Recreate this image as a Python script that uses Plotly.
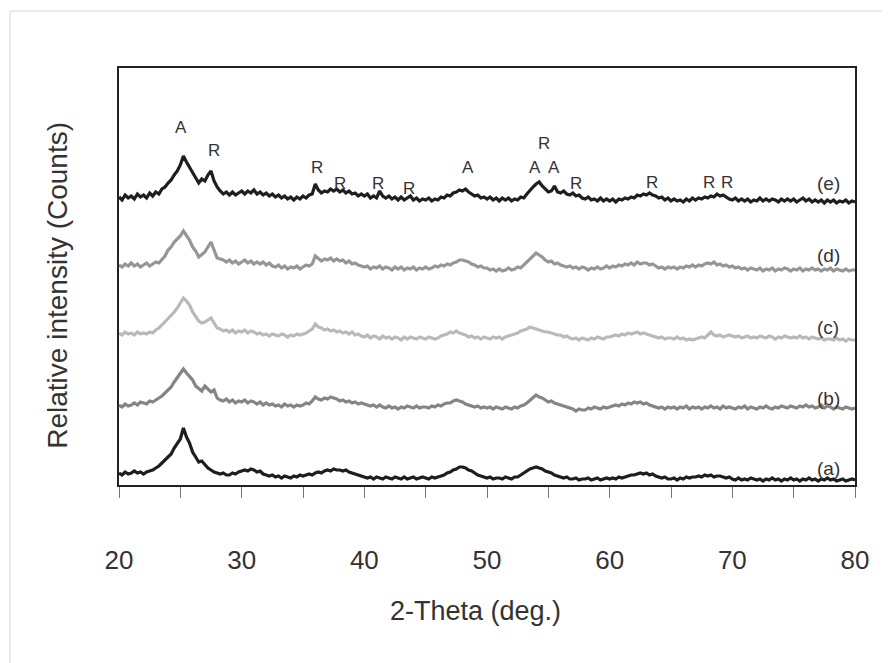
import plotly.graph_objects as go

# ---------------- data ----------------
theta_start = 20.0
theta_step = 0.25
n_points = 241
two_theta = [theta_start + theta_step * i for i in range(n_points)]

# offset intensities (stacked patterns), sampled every 0.25 deg from 20 to 80
pattern_e = [
    288, 285, 290, 287, 289, 286, 291, 288, 290, 287, 292, 289, 293, 291, 296, 298, 302, 305, 310, 314,
    320, 329, 323, 318, 312, 307, 302, 306, 304, 310, 314, 304, 298, 294, 291, 293, 290, 293, 290, 292,
    294, 291, 294, 292, 295, 291, 293, 290, 292, 289, 291, 288, 290, 287, 289, 286, 288, 285, 288, 286,
    289, 287, 290, 291, 301, 295, 292, 294, 293, 296, 294, 296, 293, 295, 292, 294, 291, 292, 289, 291,
    289, 291, 287, 289, 287, 294, 289, 287, 289, 286, 288, 285, 288, 285, 287, 289, 285, 287, 284, 286,
    285, 287, 284, 286, 285, 288, 287, 290, 289, 292, 293, 295, 294, 296, 293, 291, 289, 290, 287, 288,
    286, 288, 285, 287, 284, 287, 285, 287, 284, 286, 285, 288, 287, 291, 295, 298, 301, 303, 299, 296,
    293, 294, 299, 293, 292, 294, 291, 290, 292, 289, 290, 287, 286, 288, 285, 286, 284, 287, 284, 286,
    284, 286, 283, 286, 285, 287, 286, 288, 287, 290, 289, 291, 290, 292, 290, 289, 287, 288, 285, 287,
    284, 286, 284, 285, 283, 286, 284, 287, 285, 287, 286, 288, 287, 289, 288, 291, 289, 290, 288, 286,
    285, 287, 284, 286, 284, 286, 283, 285, 284, 287, 284, 286, 284, 286, 285, 283, 286, 284, 286, 284,
    286, 283, 285, 287, 284, 286, 283, 285, 283, 285, 282, 285, 283, 285, 282, 284, 283, 285, 282, 284,
    283,
]
pattern_d = [
    220, 218, 221, 219, 222, 219, 221, 218, 220, 222, 219, 221, 223, 222, 226, 229, 235, 238, 243, 246,
    249, 254, 250, 245, 238, 234, 228, 231, 233, 238, 243, 235, 227, 226, 225, 223, 225, 222, 224, 221,
    223, 225, 222, 224, 221, 223, 221, 223, 220, 222, 219, 218, 220, 217, 219, 216, 218, 217, 219, 216,
    218, 220, 219, 221, 229, 226, 224, 226, 225, 227, 224, 226, 224, 225, 222, 224, 221, 222, 220, 219,
    218, 219, 216, 218, 217, 219, 216, 218, 217, 215, 218, 216, 218, 215, 217, 216, 218, 215, 217, 216,
    218, 216, 217, 219, 218, 220, 219, 221, 220, 222, 223, 225, 225, 224, 223, 221, 220, 218, 219, 217,
    217, 215, 216, 214, 216, 214, 215, 217, 215, 216, 218, 217, 220, 222, 225, 228, 232, 230, 228, 225,
    223, 224, 221, 222, 220, 219, 218, 219, 217, 218, 216, 218, 217, 215, 217, 216, 218, 216, 217, 219,
    217, 219, 218, 220, 219, 221, 220, 222, 220, 223, 221, 222, 222, 220, 221, 219, 217, 218, 216, 218,
    217, 218, 216, 218, 217, 219, 218, 220, 218, 220, 219, 221, 222, 221, 223, 220, 221, 219, 220, 218,
    219, 217, 218, 216, 217, 215, 217, 216, 215, 217, 214, 216, 215, 217, 214, 216, 215, 217, 216, 214,
    216, 215, 217, 214, 216, 215, 217, 215, 216, 214, 216, 215, 217, 214, 216, 215, 214, 216, 214, 215,
    215,
]
pattern_c = [
    152, 150, 153, 151, 152, 150, 153, 151, 152, 151, 153, 152, 155, 157, 160, 163, 167, 170, 173, 177,
    182, 187, 184, 180, 173, 168, 164, 162, 163, 165, 167, 162, 157, 156, 154, 155, 153, 155, 152, 154,
    153, 155, 152, 154, 153, 151, 152, 150, 151, 149, 151, 150, 149, 151, 150, 148, 150, 149, 151, 150,
    151, 152, 154, 156, 161, 158, 157, 155, 156, 154, 155, 153, 154, 152, 153, 151, 153, 150, 151, 149,
    148, 150, 147, 149, 148, 146, 149, 147, 148, 146, 148, 147, 145, 148, 146, 148, 147, 146, 148, 147,
    146, 148, 147, 146, 147, 149, 150, 151, 153, 152, 154, 152, 151, 150, 148, 149, 147, 148, 146, 148,
    147, 146, 148, 147, 148, 146, 148, 149, 150, 151, 152, 154, 155, 156, 158, 157, 156, 155, 154, 153,
    153, 152, 151, 150, 150, 148, 149, 147, 146, 147, 145, 147, 146, 145, 147, 146, 148, 147, 146, 148,
    148, 149, 150, 149, 151, 150, 152, 151, 152, 153, 151, 152, 151, 150, 149, 148, 147, 148, 146, 147,
    147, 146, 148, 146, 147, 145, 146, 145, 146, 147, 148, 147, 150, 153, 150, 149, 150, 148, 149, 150,
    149, 148, 149, 147, 148, 149, 147, 148, 147, 149, 148, 147, 149, 148, 146, 148, 147, 149, 148, 147,
    148, 147, 149, 147, 148, 146, 148, 147, 146, 147, 145, 146, 146, 145, 147, 145, 146, 144, 146, 145,
    145,
]
pattern_b = [
    80, 78, 81, 79, 80, 82, 80, 83, 82, 81, 84, 83, 85, 87, 89, 92, 95, 98, 103, 107,
    111, 116, 112, 108, 105, 99, 96, 94, 99, 96, 93, 95, 87, 85, 84, 86, 83, 85, 82, 84,
    83, 85, 82, 84, 83, 81, 83, 80, 82, 80, 81, 79, 80, 78, 81, 79, 80, 78, 80, 79,
    80, 82, 81, 84, 88, 86, 85, 87, 86, 88, 87, 86, 84, 85, 83, 84, 82, 83, 81, 82,
    81, 80, 79, 80, 78, 80, 78, 77, 79, 77, 78, 76, 78, 77, 79, 78, 77, 79, 77, 78,
    78, 77, 79, 78, 80, 79, 81, 82, 82, 84, 85, 84, 83, 81, 80, 79, 78, 79, 77, 78,
    77, 78, 76, 78, 77, 76, 78, 77, 76, 78, 77, 79, 80, 82, 85, 88, 90, 88, 87, 85,
    83, 84, 82, 81, 80, 79, 78, 77, 76, 74, 76, 75, 75, 77, 76, 78, 77, 76, 78, 77,
    78, 79, 80, 79, 81, 80, 82, 81, 83, 82, 83, 81, 82, 80, 79, 78, 77, 78, 76, 78,
    77, 78, 76, 78, 77, 79, 76, 78, 77, 78, 76, 78, 77, 79, 77, 78, 76, 79, 77, 78,
    77, 76, 78, 77, 79, 76, 78, 77, 76, 78, 77, 79, 77, 76, 78, 77, 79, 78, 77, 79,
    78, 77, 79, 78, 80, 78, 79, 77, 78, 80, 77, 79, 78, 76, 78, 77, 76, 78, 77, 76,
    77,
]
pattern_a = [
    12, 10, 13, 11, 12, 14, 12, 13, 11, 13, 14, 15, 17, 19, 22, 25, 28, 31, 37, 41,
    46, 57, 48, 42, 33, 28, 23, 24, 20, 17, 15, 13, 12, 11, 12, 10, 10, 12, 11, 13,
    14, 15, 14, 16, 15, 13, 14, 11, 10, 9, 10, 8, 9, 7, 9, 8, 7, 9, 8, 10,
    9, 10, 11, 10, 12, 13, 12, 14, 15, 14, 16, 15, 15, 14, 15, 13, 12, 11, 10, 9,
    8, 7, 8, 6, 8, 7, 6, 8, 7, 6, 8, 7, 6, 8, 6, 7, 8, 6, 7, 8,
    7, 6, 8, 7, 8, 9, 10, 12, 13, 15, 16, 18, 18, 17, 15, 14, 12, 10, 9, 8,
    7, 8, 6, 7, 7, 6, 8, 7, 6, 8, 8, 10, 12, 14, 16, 17, 18, 17, 16, 14,
    13, 12, 10, 9, 8, 7, 8, 6, 6, 7, 5, 6, 6, 7, 5, 6, 7, 5, 6, 7,
    6, 7, 6, 8, 7, 8, 9, 10, 10, 11, 12, 11, 12, 10, 11, 9, 8, 7, 8, 6,
    6, 7, 5, 7, 6, 8, 7, 8, 8, 9, 8, 10, 9, 10, 8, 9, 9, 8, 7, 8,
    6, 5, 7, 5, 6, 5, 7, 6, 5, 6, 4, 6, 5, 7, 5, 6, 4, 6, 5, 7,
    5, 6, 4, 6, 5, 7, 5, 6, 4, 6, 5, 7, 5, 6, 4, 5, 6, 4, 5, 6,
    5,
]

series_names = ["(a)", "(b)", "(c)", "(d)", "(e)"]
series_values = [pattern_a, pattern_b, pattern_c, pattern_d, pattern_e]
series_colors = ["#1e1e1e", "#858585", "#b9b9b9", "#969696", "#1e1e1e"]
series_label_theta = [77.8, 77.8, 77.8, 77.8, 77.8]
series_label_height = [17, 87, 158, 230, 302]

# phase markers (A = anatase, R = rutile) above pattern (e)
peak_text = ["A", "R", "R", "R", "R", "R", "A", "R", "A", "A", "R", "R", "R", "R"]
peak_theta = [25.05, 27.74, 36.14, 38.02, 41.11, 43.64, 48.45, 54.65, 53.91, 55.46, 57.25, 63.45, 68.10, 69.57]
peak_height = [358, 335, 318, 302, 302, 297, 318, 342, 318, 318, 302, 303, 303, 303]

x_tick_values = [20, 25, 30, 35, 40, 45, 50, 55, 60, 65, 70, 75, 80]
x_tick_text = ["20", "", "30", "", "40", "", "50", "", "60", "", "70", "", "80"]

# ---------------- figure ----------------
FONT = "Liberation Sans, Arial, Helvetica, sans-serif"
fig = go.Figure()

for name, vals, col in zip(series_names, series_values, series_colors):
    fig.add_trace(go.Scatter(
        x=two_theta, y=vals, mode="lines", name=name,
        line=dict(color=col, width=3.2), showlegend=False,
    ))

annotations = []
for t, th, h in zip(peak_text, peak_theta, peak_height):
    annotations.append(dict(x=th, y=h, xref="x", yref="y", text=t, showarrow=False,
                            xanchor="center", yanchor="middle",
                            font=dict(family=FONT, size=17, color="#333333")))
for t, th, h in zip(series_names, series_label_theta, series_label_height):
    annotations.append(dict(x=th, y=h, xref="x", yref="y", text=t, showarrow=False,
                            xanchor="center", yanchor="middle",
                            font=dict(family=FONT, size=19, color="#333333")))

annotations.append(dict(x=0.4837, y=-0.302, xref="paper", yref="paper",
                        text="2-Theta (deg.)", showarrow=False,
                        xanchor="center", yanchor="middle",
                        font=dict(family=FONT, size=27, color="#333333")))
annotations.append(dict(x=-0.083, y=0.48, xref="paper", yref="paper",
                        text="Relative intensity (Counts)", showarrow=False, textangle=-90,
                        xanchor="center", yanchor="middle",
                        font=dict(family=FONT, size=28, color="#333333")))

# the page body has an 8px default margin; margins compensate so the
# plot box lands at x 119..855, y 68..485 in the window
fig.update_layout(
    width=890, height=663,
    margin=dict(l=111, r=43, t=60, b=186),
    paper_bgcolor="white", plot_bgcolor="white",
    annotations=annotations,
    shapes=[dict(type="rect", xref="paper", yref="paper",
                 x0=(10 - 119) / 736, x1=(900 - 119) / 736,
                 y0=(485 - 700) / 417, y1=(485 - 11) / 417,
                 line=dict(color="#d6d6d6", width=1), layer="below")],
)
fig.update_xaxes(
    range=[20, 80], tickvals=x_tick_values, ticktext=x_tick_text,
    ticks="outside", ticklen=11, tickwidth=1, tickcolor="#777777",
    ticklabelstandoff=40,
    tickfont=dict(family=FONT, size=26, color="#333333"),
    showline=True, mirror=True, linecolor="#222222", linewidth=2,
    showgrid=False, zeroline=False,
)
fig.update_yaxes(
    range=[0, 417], showticklabels=False, ticks="",
    showline=True, mirror=True, linecolor="#222222", linewidth=2,
    showgrid=False, zeroline=False,
)

fig.write_html("out.html")
